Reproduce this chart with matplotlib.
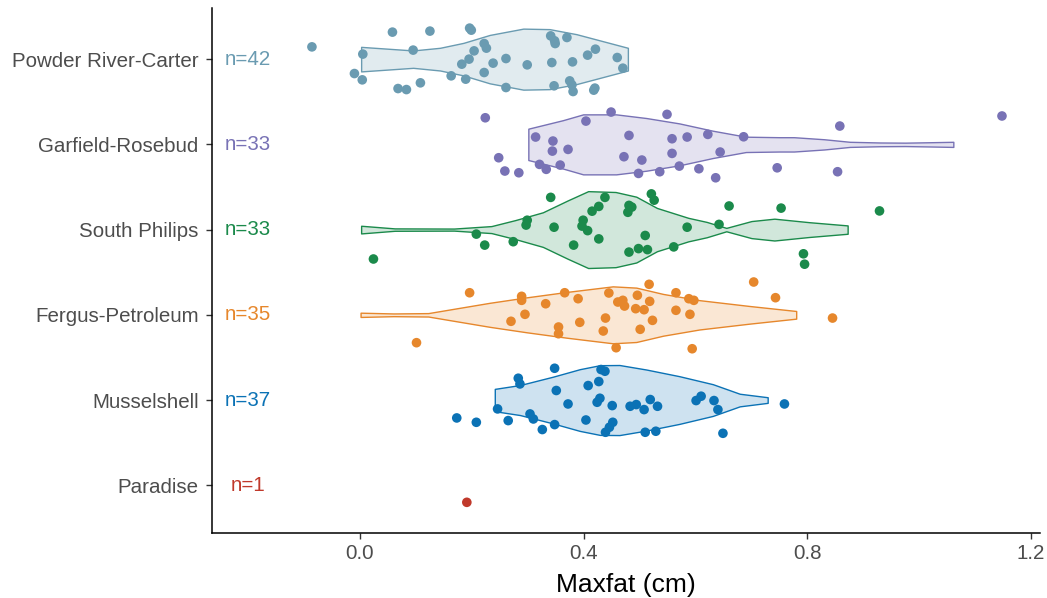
import matplotlib
matplotlib.use("Agg")
import matplotlib.pyplot as plt
from matplotlib.colors import to_rgba

plt.rcParams['font.family'] = ['Liberation Sans', 'DejaVu Sans']

# ---------------- data ----------------
categories = ["Paradise", "Musselshell", "Fergus-Petroleum", "South Philips",
              "Garfield-Rosebud", "Powder River-Carter"]
n_counts = [1, 37, 35, 33, 33, 42]
colors = ["#c0392b", "#0b72b5", "#e6872c", "#1b8a4b", "#7872b5", "#6a9bb1"]

# jittered points: x value (cm) and vertical offset from category centre
paradise_x = [0.191]
paradise_dy = [-0.20]

mussel_x = [0.348, 0.283, 0.286, 0.431, 0.438, 0.427, 0.408, 0.351, 0.429, 0.424,
            0.372, 0.451, 0.483, 0.494, 0.508, 0.519, 0.532, 0.601, 0.610, 0.633,
            0.640, 0.759, 0.246, 0.173, 0.208, 0.265, 0.304, 0.310, 0.326, 0.348,
            0.404, 0.452, 0.446, 0.439, 0.510, 0.529, 0.649]
mussel_dy = [0.373, 0.256, 0.189, 0.358, 0.338, 0.217, 0.170, 0.112, 0.021, -0.026,
             -0.046, -0.065, -0.073, -0.053, -0.112, 0.006, -0.073, -0.006, 0.045, -0.006,
             -0.112, -0.046, -0.104, -0.210, -0.261, -0.241, -0.163, -0.222, -0.346, -0.288,
             -0.234, -0.261, -0.319, -0.378, -0.378, -0.366, -0.390]

fergus_x = [0.196, 0.289, 0.289, 0.366, 0.390, 0.332, 0.445, 0.517, 0.496, 0.565,
            0.588, 0.597, 0.704, 0.743, 0.518, 0.461, 0.470, 0.473, 0.493, 0.508,
            0.565, 0.590, 0.295, 0.270, 0.393, 0.439, 0.523, 0.845, 0.355, 0.355,
            0.435, 0.501, 0.101, 0.458, 0.594]
fergus_dy = [0.259, 0.217, 0.170, 0.259, 0.189, 0.130, 0.256, 0.358, 0.229, 0.259,
             0.189, 0.170, 0.385, 0.201, 0.158, 0.150, 0.170, 0.103, 0.072, 0.060,
             0.053, 0.006, 0.006, -0.076, -0.088, -0.038, -0.065, -0.038, -0.143, -0.222,
             -0.190, -0.170, -0.327, -0.386, -0.398]

south_x = [0.341, 0.438, 0.521, 0.526, 0.660, 0.753, 0.929, 0.427, 0.415, 0.481,
           0.486, 0.479, 0.299, 0.297, 0.347, 0.399, 0.397, 0.407, 0.585, 0.642,
           0.208, 0.223, 0.274, 0.382, 0.427, 0.510, 0.481, 0.498, 0.514, 0.561,
           0.024, 0.793, 0.795]
south_dy = [0.378, 0.378, 0.419, 0.345, 0.277, 0.252, 0.219, 0.272, 0.216, 0.284,
            0.264, 0.203, 0.110, 0.053, 0.028, 0.110, 0.041, -0.012, 0.028, 0.061,
            -0.053, -0.182, -0.142, -0.182, -0.109, -0.069, -0.264, -0.223, -0.235, -0.203,
            -0.345, -0.284, -0.406]

garfield_x = [0.224, 0.404, 0.449, 0.549, 0.314, 0.345, 0.344, 0.372, 0.481, 0.558,
              0.585, 0.622, 0.686, 0.644, 0.558, 0.472, 0.504, 0.248, 0.321, 0.333,
              0.358, 0.259, 0.284, 0.498, 0.536, 0.571, 0.606, 0.636, 0.746, 0.858,
              1.148, 0.854]
garfield_dy = [0.312, 0.273, 0.379, 0.352, 0.086, 0.039, -0.079, -0.059, 0.105, 0.066,
               0.086, 0.117, 0.089, -0.090, -0.106, -0.145, -0.184, -0.157, -0.235, -0.293,
               -0.243, -0.313, -0.333, -0.341, -0.321, -0.255, -0.286, -0.392, -0.275, 0.215,
               0.333, -0.321]

powder_x = [-0.086, 0.058, 0.125, 0.196, 0.199, 0.005, -0.010, 0.004, 0.095, 0.068,
            0.083, 0.108, 0.163, 0.189, 0.182, 0.195, 0.204, 0.222, 0.226, 0.222,
            0.238, 0.261, 0.261, 0.299, 0.341, 0.348, 0.349, 0.370, 0.343, 0.380,
            0.347, 0.375, 0.379, 0.381, 0.407, 0.421, 0.418, 0.420, 0.460, 0.470]
powder_dy = [0.144, 0.317, 0.329, 0.364, 0.340, 0.059, -0.169, -0.243, 0.106, -0.345,
             -0.357, -0.278, -0.196, -0.235, -0.059, 0.000, 0.097, 0.183, 0.129, -0.157,
             -0.047, 0.007, -0.333, -0.067, 0.273, 0.215, 0.183, 0.254, -0.040, -0.032,
             -0.313, -0.255, -0.302, -0.380, 0.047, 0.117, -0.364, -0.340, 0.019, -0.106]

# violin outlines: x knots (cm) and half-width (category units)
mussel_vx = [0.241, 0.286, 0.345, 0.393, 0.429, 0.464, 0.512, 0.571, 0.631, 0.679, 0.729]
mussel_vw = [0.131, 0.176, 0.274, 0.362, 0.409, 0.411, 0.358, 0.280, 0.186, 0.074, 0.033]

fergus_vx = [0.001, 0.060, 0.122, 0.161, 0.232, 0.298, 0.369, 0.452, 0.494, 0.542,
             0.607, 0.696, 0.780]
fergus_vw = [0.025, 0.016, 0.020, 0.063, 0.141, 0.205, 0.268, 0.334, 0.319, 0.245,
             0.172, 0.104, 0.045]

south_vx = [0.002, 0.062, 0.168, 0.235, 0.278, 0.327, 0.371, 0.408, 0.457, 0.494,
            0.531, 0.587, 0.620, 0.655, 0.700, 0.741, 0.803, 0.872]
south_vw = [0.045, 0.014, 0.012, 0.041, 0.112, 0.203, 0.341, 0.451, 0.441, 0.386,
            0.254, 0.138, 0.090, 0.020, 0.100, 0.128, 0.087, 0.049]

garfield_vx = [0.301, 0.363, 0.399, 0.458, 0.512, 0.571, 0.631, 0.690, 0.750, 0.776,
               0.830, 0.876, 0.930, 0.975, 1.020, 1.061]
garfield_vw = [0.184, 0.284, 0.352, 0.352, 0.309, 0.246, 0.160, 0.090, 0.084, 0.084,
               0.060, 0.030, 0.022, 0.020, 0.025, 0.030]

powder_vx = [0.002, 0.095, 0.143, 0.185, 0.232, 0.292, 0.339, 0.387, 0.479]
powder_vw = [0.144, 0.102, 0.133, 0.191, 0.284, 0.358, 0.352, 0.293, 0.133]

points_x = [paradise_x, mussel_x, fergus_x, south_x, garfield_x, powder_x]
points_dy = [paradise_dy, mussel_dy, fergus_dy, south_dy, garfield_dy, powder_dy]
violins_x = [None, mussel_vx, fergus_vx, south_vx, garfield_vx, powder_vx]
violins_w = [None, mussel_vw, fergus_vw, south_vw, garfield_vw, powder_vw]

# ---------------- figure ----------------
fig = plt.figure(figsize=(10.47, 5.98), dpi=100)
ax = fig.add_axes([212 / 1047, (598 - 533) / 598, (1040 - 212) / 1047, (533 - 8) / 598])

for i, cat in enumerate(categories):
    pos = i + 1
    col = colors[i]
    vx, vw = violins_x[i], violins_w[i]
    if vx is not None:
        lo = [pos - w for w in vw]
        hi = [pos + w for w in vw]
        ax.fill_between(vx, lo, hi, facecolor=to_rgba(col, 0.2),
                        edgecolor=col, linewidth=1.0, zorder=2)
    ys = [pos + d for d in points_dy[i]]
    ax.scatter(points_x[i], ys, s=48, color=col, edgecolors='none', zorder=3)
    ax.text(-0.2, pos, f"n={n_counts[i]}", color=col, fontsize=14.8,
            ha='center', va='center', zorder=4)

ax.set_xlim(-0.2647, 1.216)
ax.set_ylim(0.44, 6.6)
ax.set_yticks(range(1, len(categories) + 1))
ax.set_yticklabels(categories)
ax.set_xticks([0.0, 0.4, 0.8, 1.2])
ax.set_xticklabels(["0.0", "0.4", "0.8", "1.2"])
ax.tick_params(axis='both', labelsize=14.8, labelcolor='#4d4d4d', color='#333333',
               length=4.5, width=1.0)
ax.tick_params(axis='y', pad=5.2)
ax.tick_params(axis='x', pad=3.5)
ax.set_xlabel("Maxfat (cm)", fontsize=19, color='black', labelpad=7)

for side in ['top', 'right']:
    ax.spines[side].set_visible(False)
for side in ['left', 'bottom']:
    ax.spines[side].set_color('black')
    ax.spines[side].set_linewidth(1.1)

fig.savefig("out.png", dpi=100, facecolor='white')
